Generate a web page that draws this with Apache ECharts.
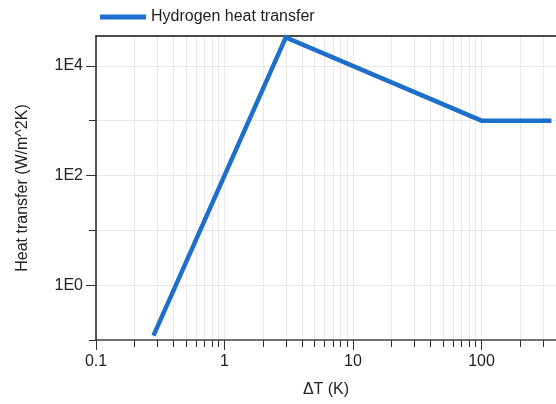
<!DOCTYPE html>
<html>
<head>
    <meta charset="UTF-8" />
    <title>Hydrogen heat transfer</title>
    <script src="https://cdn.jsdelivr.net/npm/echarts@6/dist/echarts.min.js"></script>
    <style>
        html, body { margin: 0; padding: 0; background: #fff; }
        #main { width: 556px; height: 404px; }
    </style>
</head>
<body>
<div id="main"></div>
<script type="text/javascript">
    // data
    var deltaT = [0.28, 3, 100, 350];
    var heatTransfer = [0.12, 33000, 1000, 1000];
    // tick values
    var xLabelTicks = [0.1, 1, 10, 100];
    var xGridTicks = [0.1, 0.2, 0.3, 0.4, 0.5, 0.6, 0.7, 0.8, 0.9,
                      1, 2, 3, 4, 5, 6, 7, 8, 9,
                      10, 20, 30, 40, 50, 60, 70, 80, 90,
                      100, 200, 300];
    var yLabelTicks = [1, 100, 10000];
    var yGridTicks = [0.1, 1, 10, 100, 1000, 10000];

    var fontName = 'Liberation Sans';
    var fontSize = 16;
    var lineColor = '#1e6fcc';
    var textColor = '#222';

    var points = [];
    for (var i = 0; i < deltaT.length; i++) {
        points.push([deltaT[i], heatTransfer[i]]);
    }

    // axis with only the longer ticks, laid over the main one
    function longTicks(type, pos, vals, min, max) {
        return {
            type: type, position: pos, min: min, max: max,
            axisLine: { show: false },
            axisTick: { show: true, length: 10, customValues: vals, lineStyle: { color: '#333' } },
            axisLabel: { show: false },
            splitLine: { show: false }
        };
    }

    var myChart = echarts.init(document.getElementById('main'), null, { renderer: 'canvas' });
    var option = {
        animation: false,
        textStyle: { fontFamily: fontName },
        legend: {
            left: 95,
            top: 4,
            icon: 'rect',
            itemWidth: 46,
            itemHeight: 5,
            textStyle: { fontFamily: fontName, fontSize: fontSize, color: textColor },
            data: ['Hydrogen heat transfer']
        },
        grid: { left: 96, right: 0, top: 36, bottom: 64, containLabel: false },
        xAxis: [{
            type: 'log',
            min: 0.1,
            max: 380,
            name: 'ΔT (K)',
            nameLocation: 'middle',
            nameGap: 42,
            nameTextStyle: { fontFamily: fontName, fontSize: fontSize, color: textColor },
            axisLine: { lineStyle: { color: '#444', width: 1.5 } },
            axisTick: { length: 7, customValues: xGridTicks, lineStyle: { color: '#333' } },
            axisLabel: {
                customValues: xLabelTicks,
                fontFamily: fontName, fontSize: fontSize, color: textColor, margin: 14,
                formatter: function (v) { return String(v); }
            },
            splitLine: { show: true, lineStyle: { color: '#e8e8e8', width: 1 } }
        }, {
            type: 'log',
            position: 'top',
            min: 0.1,
            max: 380,
            axisLine: { show: true, lineStyle: { color: '#111', width: 1.5 } },
            axisTick: { show: false },
            axisLabel: { show: false },
            splitLine: { show: false }
        },
        longTicks('log', 'bottom', xLabelTicks, 0.1, 380)
        ],
        yAxis: [{
            type: 'log',
            min: 0.1,
            max: 35000,
            name: 'Heat transfer (W/m^2K)',
            nameLocation: 'middle',
            nameGap: 65,
            nameTextStyle: { fontFamily: fontName, fontSize: fontSize, color: textColor },
            axisLine: { show: true, lineStyle: { color: '#222', width: 1.5 } },
            axisTick: { show: true, length: 7, customValues: yGridTicks, lineStyle: { color: '#333' } },
            axisLabel: {
                customValues: yLabelTicks,
                fontFamily: fontName, fontSize: fontSize, color: textColor, margin: 13,
                formatter: function (v) { return '1E' + Math.round(Math.log10(v)); }
            },
            splitLine: { show: true, lineStyle: { color: '#e8e8e8', width: 1 } }
        },
        longTicks('log', 'left', yLabelTicks, 0.1, 35000)
        ],
        series: [{
            name: 'Hydrogen heat transfer',
            type: 'line',
            xAxisIndex: 0,
            yAxisIndex: 0,
            data: points,
            showSymbol: false,
            symbol: 'none',
            clip: true,
            itemStyle: { color: lineColor },
            lineStyle: { color: lineColor, width: 4.5, join: 'miter' }
        }]
    };
    myChart.setOption(option);
</script>
</body>
</html>
